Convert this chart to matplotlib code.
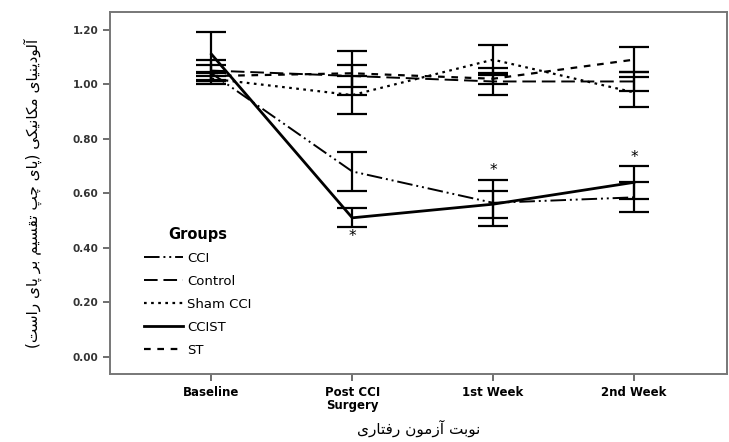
import matplotlib
matplotlib.use('Agg')
import matplotlib.pyplot as plt
import numpy as np

# test phases on the x axis
phases = ['Baseline', 'Post CCI\nSurgery', '1st Week', '2nd Week']

# group means and error bar half-widths
groups = ['CCI', 'Control', 'Sham CCI', 'CCIST', 'ST']
cci = [1.04, 0.68, 0.565, 0.585]
cci_err = [0.03, 0.07, 0.085, 0.055]
control = [1.05, 1.03, 1.01, 1.01]
control_err = [0.04, 0.04, 0.05, 0.035]
sham = [1.02, 0.96, 1.09, 0.97]
sham_err = [0.02, 0.07, 0.055, 0.055]
ccist = [1.11, 0.51, 0.56, 0.64]
ccist_err = [0.08, 0.035, 0.05, 0.06]
st = [1.03, 1.04, 1.02, 1.09]
st_err = [0.015, 0.08, 0.02, 0.045]

# where the stars go: (phase index, above or below the low groups)
stars = [(1, 'below'), (2, 'above'), (3, 'above')]

ylabel_fa = 'آلودینیای مکانیکی (پای چپ تقسیم بر پای راست)'
xlabel_fa = 'نوبت آزمون رفتاری'

# tiny persian shaper: pick contextual glyph forms, then reverse for LTR drawing
forms = {
    'ا': ('\uFE8D', '\uFE8E', None, None),
    'آ': ('\uFE81', '\uFE82', None, None),
    'ب': ('\uFE8F', '\uFE90', '\uFE91', '\uFE92'),
    'پ': ('\uFB56', '\uFB57', '\uFB58', '\uFB59'),
    'ت': ('\uFE95', '\uFE96', '\uFE97', '\uFE98'),
    'چ': ('\uFB7A', '\uFB7B', '\uFB7C', '\uFB7D'),
    'د': ('\uFEA9', '\uFEAA', None, None),
    'ر': ('\uFEAD', '\uFEAE', None, None),
    'ز': ('\uFEAF', '\uFEB0', None, None),
    'س': ('\uFEB1', '\uFEB2', '\uFEB3', '\uFEB4'),
    'ف': ('\uFED1', '\uFED2', '\uFED3', '\uFED4'),
    'ق': ('\uFED5', '\uFED6', '\uFED7', '\uFED8'),
    'ک': ('\uFB8E', '\uFB8F', '\uFB90', '\uFB91'),
    'ل': ('\uFEDD', '\uFEDE', '\uFEDF', '\uFEE0'),
    'م': ('\uFEE1', '\uFEE2', '\uFEE3', '\uFEE4'),
    'ن': ('\uFEE5', '\uFEE6', '\uFEE7', '\uFEE8'),
    'و': ('\uFEED', '\uFEEE', None, None),
    'ی': ('\uFBFC', '\uFBFD', '\uFBFE', '\uFBFF'),
}
mirror = {'(': ')', ')': '('}


def fa(text):
    out = []
    for i, ch in enumerate(text):
        if ch not in forms:
            out.append(ch)
            continue
        prev = text[i - 1] if i > 0 else ''
        nxt = text[i + 1] if i + 1 < len(text) else ''
        prev_j = prev in forms and forms[prev][2] is not None
        next_j = nxt in forms
        left_ok = forms[ch][2] is not None
        if prev_j and next_j and left_ok:
            out.append(forms[ch][3])
        elif prev_j:
            out.append(forms[ch][1])
        elif next_j and left_ok:
            out.append(forms[ch][2])
        else:
            out.append(forms[ch][0])
    return ''.join(mirror.get(c, c) for c in reversed(out))


fig = plt.figure(figsize=(7.29, 4.42), dpi=100)
ax = fig.add_axes([0.151, 0.154, 0.846, 0.819])

x = np.arange(len(phases))
series = [
    (cci, cci_err, (0, (8, 2, 1, 2, 1, 2)), 1.4),
    (control, control_err, (0, (7, 3)), 1.4),
    (sham, sham_err, (0, (1.2, 2)), 1.6),
    (ccist, ccist_err, '-', 2.0),
    (st, st_err, (0, (3, 3)), 1.6),
]
for name, (m, e, ls, lw) in zip(groups, series):
    ax.plot(x, m, color='black', linestyle=ls, linewidth=lw, label=name)
    ax.errorbar(x, m, yerr=e, fmt='none', ecolor='black', elinewidth=1.6,
                capsize=10.5, capthick=1.6)

for i, where in stars:
    if where == 'above':
        top = max(cci[i] + cci_err[i], ccist[i] + ccist_err[i])
        ax.text(x[i], top + 0.005, '*', ha='center', va='bottom', fontsize=11)
    else:
        bot = min(cci[i] - cci_err[i], ccist[i] - ccist_err[i])
        ax.text(x[i], bot - 0.005, '*', ha='center', va='top', fontsize=11)

ax.set_xlim(-0.72, 3.66)
ax.set_ylim(-0.0625, 1.265)
ax.set_xticks(x)
ax.set_xticklabels(phases, fontsize=8.5, fontweight='bold', linespacing=1.0)
ax.set_yticks([0, 0.2, 0.4, 0.6, 0.8, 1.0, 1.2])
ax.set_yticklabels(['0.00', '0.20', '0.40', '0.60', '0.80', '1.00', '1.20'],
                   fontsize=7.5, fontweight='bold', color='#333333')
ax.tick_params(axis='both', direction='out', length=5, width=1.2, color='#555555')
for s in ax.spines.values():
    s.set_color('#777777')
    s.set_linewidth(1.4)

ax.set_ylabel(fa(ylabel_fa), family=['DejaVu Sans'], fontsize=11, labelpad=22)
ax.set_xlabel(fa(xlabel_fa), family=['DejaVu Sans'], fontsize=11, labelpad=6)

leg = ax.legend(loc='lower left', bbox_to_anchor=(0.035, 0.015), frameon=False,
                title='Groups', fontsize=9.5, handlelength=3.0, handletextpad=0.3,
                labelspacing=0.75, alignment='center')
leg.get_title().set_fontsize(10.5)
leg.get_title().set_fontweight('bold')

fig.savefig('out.png', dpi=100)
